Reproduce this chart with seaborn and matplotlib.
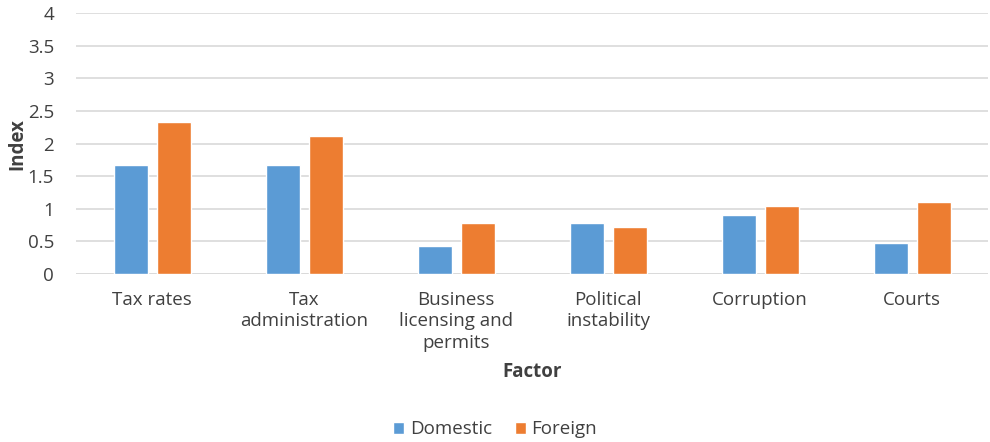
import matplotlib
matplotlib.use("Agg")
import matplotlib.pyplot as plt
import seaborn as sns
import pandas as pd
from matplotlib.patches import Patch

factors = ["Tax rates", "Tax\nadministration", "Business\nlicensing and\npermits",
           "Political\ninstability", "Corruption", "Courts"]
domestic = [1.68, 1.68, 0.43, 0.78, 0.91, 0.47]
foreign = [2.33, 2.12, 0.79, 0.72, 1.04, 1.10]
series = ["Domestic", "Foreign"]
colors = ["#5B9BD5", "#ED7D31"]
yticks = [0, 0.5, 1, 1.5, 2, 2.5, 3, 3.5, 4]

df = pd.DataFrame({
    "Factor": factors * 2,
    "Index": domestic + foreign,
    "Series": [series[0]] * len(factors) + [series[1]] * len(factors),
})

sns.set_theme(style="white")
plt.rcParams["font.family"] = ["Open Sans", "DejaVu Sans"]
text_color = "#404040"
fs = 13.5

fig = plt.figure(figsize=(9.9, 4.42), dpi=100)
ax = fig.add_axes([0.077, 0.38, 0.921, 0.59])

sns.barplot(data=df, x="Factor", y="Index", hue="Series", palette=colors,
            width=0.566, gap=0.21, ax=ax, legend=False, saturation=1)

ax.set_ylim(0, 4)
ax.set_xlim(-0.5, len(factors) - 0.5)
ax.set_yticks(yticks)
ax.set_yticklabels([f"{t:g}" for t in yticks], color=text_color, fontsize=fs)
ax.tick_params(axis="x", labelsize=fs, colors=text_color, length=0, pad=12)
ax.tick_params(axis="y", length=0, pad=16)
for lbl in ax.get_xticklabels():
    lbl.set_linespacing(1.27)
ax.yaxis.grid(True, color="#D9D9D9", linewidth=1.2)
ax.set_axisbelow(True)
for s in ["top", "right", "left", "bottom"]:
    ax.spines[s].set_visible(False)
ax.axhline(0, color="#D9D9D9", linewidth=1.2, zorder=0)

ax.set_xlabel("Factor", fontsize=fs, fontweight="bold", color=text_color, labelpad=7)
ax.set_ylabel("Index", fontsize=fs, fontweight="bold", color=text_color, va="center")
ax.yaxis.set_label_coords(-0.065, 0.5)

handles = [Patch(facecolor=c, label=s) for c, s in zip(colors, series)]
fig.legend(handles=handles, loc="lower center", bbox_to_anchor=(0.5, -0.03), ncol=2,
           frameon=False, fontsize=fs, handlelength=0.6, handleheight=0.6,
           handletextpad=0.3, columnspacing=1.2, labelcolor=text_color)

fig.savefig("out.png", dpi=100)
